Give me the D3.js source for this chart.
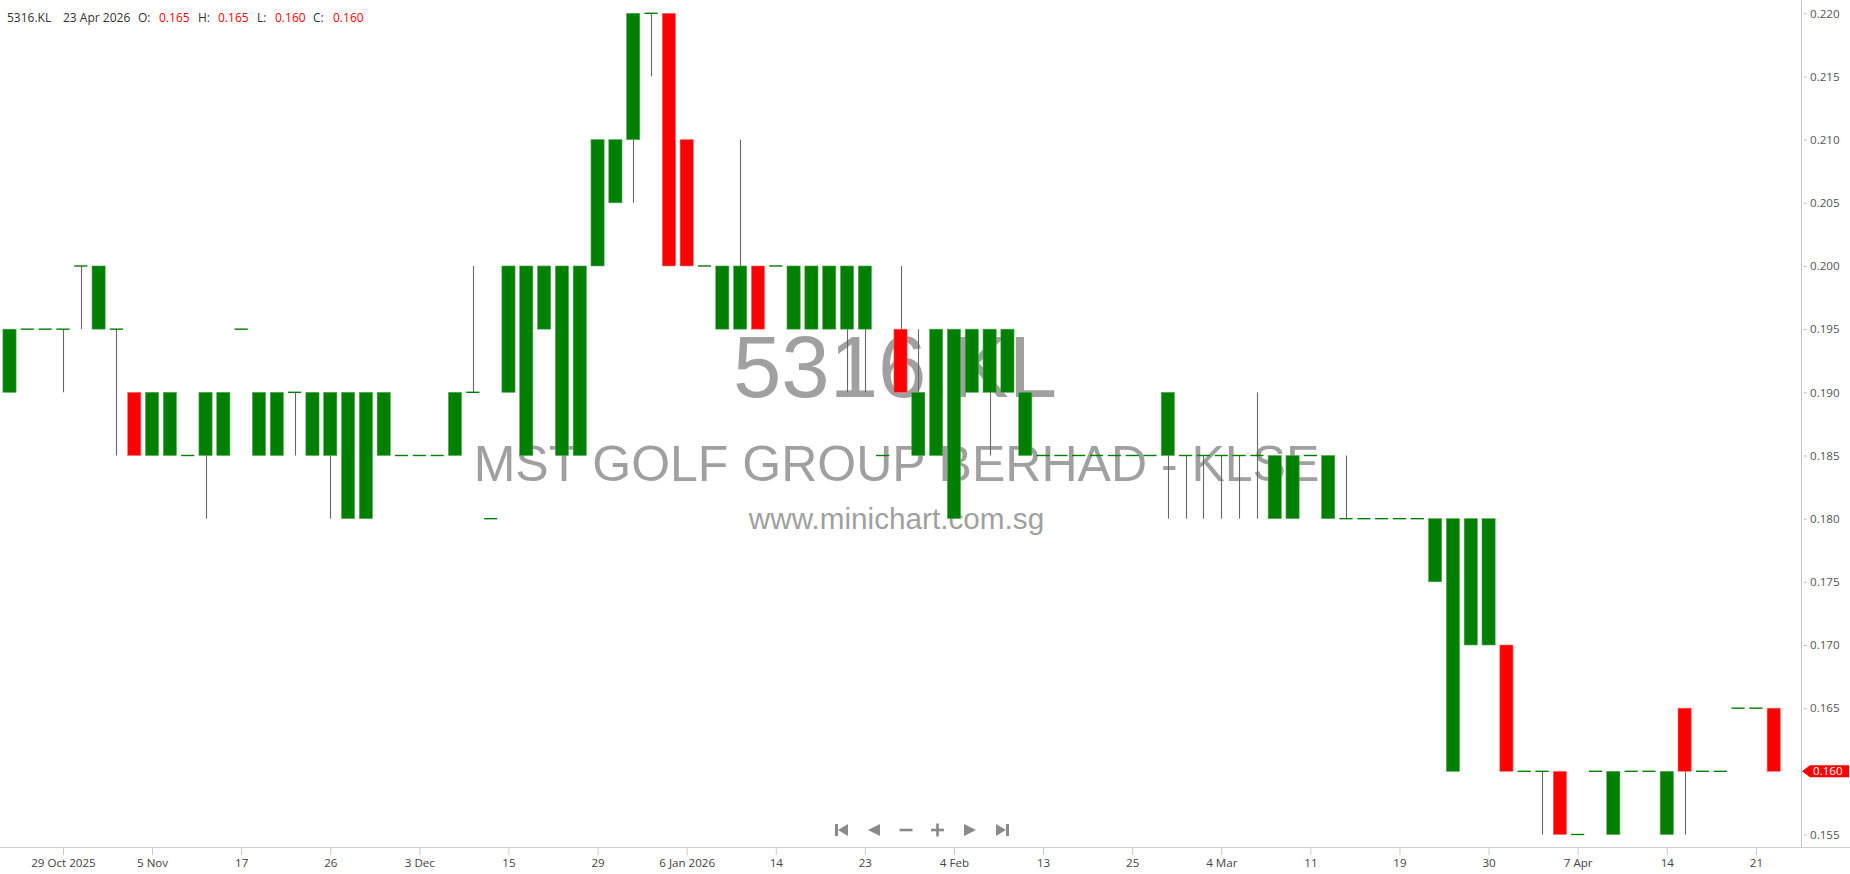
<!DOCTYPE html>
<html><head><meta charset="utf-8">
<script src="https://cdn.jsdelivr.net/npm/d3@7"></script>
<style>html,body{margin:0;padding:0;background:#fff;overflow:hidden}</style>
</head><body><svg id="c" width="1850" height="874"></svg>
<script>
// ---- data (index 0..99 = trading sessions, 24 Oct 2025 .. 23 Apr 2026) ----
const opens  = [.190,.195,.195,.195,.200,.195,.195,.190,.185,.185, .185,.185,.185,.195,.185,.185,.190,.185,.185,.180,
                .180,.185,.185,.185,.185,.185,.190,.180,.190,.185, .195,.185,.185,.200,.205,.210,.220,.220,.210,.200,
                .195,.195,.200,.200,.195,.195,.195,.195,.195,.185, .195,.185,.185,.180,.190,.190,.190,.185,.185,.185,
                .185,.185,.185,.185,.185,.185,.185,.185,.185,.185, .185,.180,.180,.185,.180,.180,.180,.180,.180,.180,
                .175,.160,.170,.170,.170,.160,.160,.160,.155,.160, .155,.160,.160,.155,.165,.160,.160,.165,.165,.165];
const highs  = [.195,.195,.195,.195,.200,.200,.195,.190,.190,.190, .185,.190,.190,.195,.190,.190,.190,.190,.190,.190,
                .190,.190,.185,.185,.185,.190,.200,.180,.200,.200, .200,.200,.200,.210,.210,.220,.220,.220,.210,.200,
                .200,.210,.200,.200,.200,.200,.200,.200,.200,.185, .200,.195,.195,.195,.195,.195,.195,.190,.185,.185,
                .185,.185,.185,.185,.185,.190,.185,.185,.185,.185, .190,.185,.185,.185,.185,.185,.180,.180,.180,.180,
                .180,.180,.180,.180,.170,.160,.160,.160,.155,.160, .160,.160,.160,.160,.165,.160,.160,.165,.165,.165];
const lows   = [.190,.195,.195,.190,.195,.195,.185,.185,.185,.185, .185,.180,.185,.195,.185,.185,.185,.185,.180,.180,
                .180,.185,.185,.185,.185,.185,.190,.180,.190,.185, .195,.185,.185,.200,.205,.205,.215,.200,.200,.200,
                .195,.195,.195,.200,.195,.195,.195,.190,.190,.185, .190,.185,.185,.180,.190,.185,.190,.185,.185,.185,
                .185,.185,.185,.185,.185,.180,.180,.180,.180,.180, .180,.180,.180,.185,.180,.180,.180,.180,.180,.180,
                .175,.160,.170,.170,.160,.160,.155,.155,.155,.160, .155,.160,.160,.155,.155,.160,.160,.165,.165,.160];
const closes = [.195,.195,.195,.195,.200,.200,.195,.185,.190,.190, .185,.190,.190,.195,.190,.190,.190,.190,.190,.190,
                .190,.190,.185,.185,.185,.190,.190,.180,.200,.200, .200,.200,.200,.210,.210,.220,.220,.200,.200,.200,
                .200,.200,.195,.200,.200,.200,.200,.200,.200,.185, .190,.190,.195,.195,.195,.195,.195,.190,.185,.185,
                .185,.185,.185,.185,.185,.190,.185,.185,.185,.185, .185,.185,.185,.185,.185,.180,.180,.180,.180,.180,
                .180,.180,.180,.180,.160,.160,.160,.155,.155,.160, .160,.160,.160,.160,.160,.160,.160,.165,.165,.160];
const tickIdx    = [3, 8, 13, 18, 23, 28, 33, 38, 43, 48, 53, 58, 63, 68, 73, 78, 83, 88, 93, 98];
const tickLabels = ["29 Oct 2025","5 Nov","17","26","3 Dec","15","29","6 Jan 2026","14","23",
                    "4 Feb","13","25","4 Mar","11","19","30","7 Apr","14","21"];
const yTicks = [0.155,0.160,0.165,0.170,0.175,0.180,0.185,0.190,0.195,0.200,0.205,0.210,0.215,0.220];
const symbol = "5316.KL", lastDate = "23 Apr 2026";
const company = "MST GOLF GROUP BERHAD - KLSE", site = "www.minichart.com.sg";

const svg = d3.select("#c");
const N = opens.length;
const x = d3.scalePoint().domain(d3.range(N)).range([9.5, 1773.7]);
const y = d3.scaleLinear().domain([0.155, 0.220]).range([834.5, 13.3]);
const bw = 13.2;
const GREEN = "#008000", RED = "#ff0000";
const data = opens.map((o,i)=>({i,o,h:highs[i],l:lows[i],c:closes[i]}));
const lastC = closes[N-1];

// watermark (behind bars)
const wm = svg.append("g").attr("font-family","'Liberation Sans', Arial, sans-serif").attr("fill","#a0a0a0").attr("text-anchor","middle");
wm.append("text").attr("x",895).attr("y",397).attr("font-size",87).text(symbol);
wm.append("text").attr("x",896.5).attr("y",481).attr("font-size",50).text(company);
wm.append("text").attr("x",896.5).attr("y",529).attr("font-size",29.7).text(site);

// axes lines
svg.append("line").attr("x1",0).attr("x2",1850).attr("y1",847.5).attr("y2",847.5).attr("stroke","#cfcfcf");
svg.append("line").attr("x1",1801.5).attr("x2",1801.5).attr("y1",0).attr("y2",847.5).attr("stroke","#c4c4c4");

// wicks
svg.append("g").selectAll("line").data(data.filter(d=>d.h>d.l)).join("line")
  .attr("x1",d=>Math.round(x(d.i))+0.5).attr("x2",d=>Math.round(x(d.i))+0.5)
  .attr("y1",d=>y(d.h)).attr("y2",d=>y(d.l))
  .attr("stroke","#666").attr("stroke-width",1.1);

// bodies
svg.append("g").selectAll("rect").data(data.filter(d=>d.o!==d.c)).join("rect")
  .attr("x",d=>x(d.i)-bw/2).attr("width",bw)
  .attr("y",d=>y(Math.max(d.o,d.c))).attr("height",d=>Math.abs(y(d.o)-y(d.c)))
  .attr("fill",d=>d.c>d.o?GREEN:RED)
  .attr("stroke",d=>d.c>d.o?"#5aa85a":"#ff7070").attr("stroke-width",0.6);

// flat sessions (open == close)
svg.append("g").selectAll("line").data(data.filter(d=>d.o===d.c)).join("line")
  .attr("x1",d=>x(d.i)-bw/2).attr("x2",d=>x(d.i)+bw/2)
  .attr("y1",d=>y(d.c)).attr("y2",d=>y(d.c))
  .attr("stroke",GREEN).attr("stroke-width",1.4);

// y axis (right); the tick under the last-price tag is covered by the tag
const yAx = svg.append("g").attr("transform","translate(1802,0)")
  .call(d3.axisRight(y).tickValues(yTicks).tickFormat(d3.format(".3f")).tickSize(0).tickPadding(8));
yAx.select(".domain").remove();
yAx.selectAll("text").attr("font-family","'Open Sans', sans-serif").attr("font-size",11.6).attr("fill","#555");
yAx.selectAll(".tick").filter(d=>Math.abs(d-lastC)<1e-9).remove();
yAx.selectAll(".tick").append("line").attr("x1",2).attr("x2",4.5).attr("stroke","#b0b0b0");

// x axis (bottom)
const xAx = svg.append("g").attr("transform","translate(0,848)")
  .call(d3.axisBottom(x).tickValues(tickIdx).tickFormat((d,k)=>tickLabels[k]).tickSize(7).tickPadding(4));
xAx.select(".domain").remove();
xAx.selectAll(".tick line").attr("stroke","#c8c8c8");
xAx.selectAll("text").attr("font-family","'Open Sans', sans-serif").attr("font-size",11.6).attr("fill","#444");

// last price tag
const ty = y(lastC);
svg.append("path").attr("d",`M1802,${ty} L1810,${ty-6} L1849,${ty-6} L1849,${ty+6} L1810,${ty+6} Z`).attr("fill",RED);
svg.append("text").attr("x",1813).attr("y",ty+4).attr("font-family","'Open Sans', sans-serif")
  .attr("font-size",11.6).attr("fill","#fff").text(d3.format(".3f")(lastC));

// header
const hdr = svg.append("g").attr("font-family","'Open Sans', sans-serif").attr("font-size",12);
const fmt = d3.format(".3f");
const parts = [[7,symbol,"#333"],[63,lastDate,"#333"],[138,"O:","#333"],[159,fmt(opens[N-1]),RED],
               [198,"H:","#333"],[218,fmt(highs[N-1]),RED],[257,"L:","#333"],[275,fmt(lows[N-1]),RED],
               [313,"C:","#333"],[333,fmt(closes[N-1]),RED]];
parts.forEach(p=>hdr.append("text").attr("x",p[0]).attr("y",22).attr("fill",p[2]).text(p[1]));

// navigation controls
const nav = svg.append("g").attr("fill","#8a8a8a");
const cy = 830;
nav.append("rect").attr("x",835).attr("y",cy-6).attr("width",3).attr("height",12);
nav.append("path").attr("d",`M838,${cy} L848,${cy-6} L848,${cy+6} Z`);
nav.append("path").attr("d",`M868,${cy} L880,${cy-6} L880,${cy+6} Z`);
nav.append("rect").attr("x",899.5).attr("y",cy-1.3).attr("width",13).attr("height",2.6);
nav.append("rect").attr("x",931).attr("y",cy-1.3).attr("width",13).attr("height",2.6);
nav.append("rect").attr("x",936.2).attr("y",cy-6.5).attr("width",2.6).attr("height",13);
nav.append("path").attr("d",`M976,${cy} L964,${cy-6} L964,${cy+6} Z`);
nav.append("path").attr("d",`M1006,${cy} L996,${cy-6} L996,${cy+6} Z`);
nav.append("rect").attr("x",1006).attr("y",cy-6).attr("width",3).attr("height",12);
</script></body></html>
